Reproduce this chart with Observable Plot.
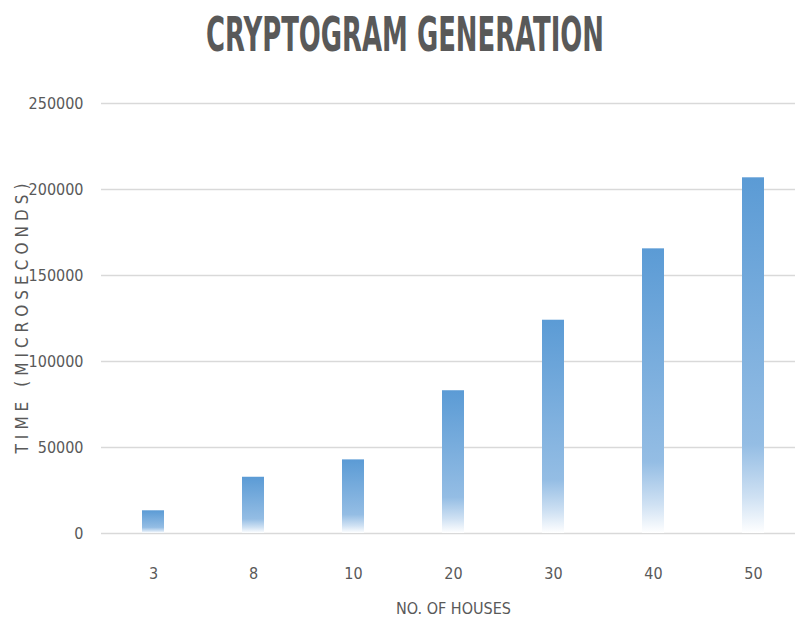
<!DOCTYPE html>
<html>
<head>
<meta charset="utf-8">
<script src="https://cdn.jsdelivr.net/npm/d3@7"></script>
<script src="https://cdn.jsdelivr.net/npm/@observablehq/plot@0.6"></script>
<style>
  html, body { margin: 0; padding: 0; background: #fff; }
  #chart { width: 795px; height: 626px; position: relative; overflow: hidden; }
  #title-box { height: 75px; width: 795px; position: relative; }
  #title {
    position: absolute; left: 405px; top: 6px;
    white-space: nowrap;
    font-family: 'DejaVu Sans Condensed', 'Liberation Sans', sans-serif;
    font-weight: bold; font-size: 48px; line-height: 56px;
    color: #595959;
    transform-origin: 0 0;
  }
</style>
</head>
<body>
<div id="chart">
  <div id="title-box"><span id="title">CRYPTOGRAM GENERATION</span></div>
</div>
<script>
// Number of houses (categories) and cryptogram generation time in microseconds
const houses = ["3", "8", "10", "20", "30", "40", "50"];
const times = [13200, 32700, 42800, 83000, 124000, 165500, 206800];
const yTicks = [0, 50000, 100000, 150000, 200000, 250000];

const data = houses.map((h, i) => ({house: h, time: times[i]}));

const font = "'DejaVu Sans Condensed', 'Liberation Sans', sans-serif";

// Narrow the title so it spans about 398px, centred on x = 405
const title = document.getElementById("title");
const natural = title.getBoundingClientRect().width;
const k = 398 / natural;
title.style.left = (405 - 199) + "px";
title.style.transform = `scaleX(${k})`;

const plot = Plot.plot({
  width: 795,
  height: 551,
  marginTop: 28,
  marginBottom: 93,
  marginLeft: 101,
  marginRight: 0,
  style: {fontFamily: font, fontSize: "16px", color: "#595959", background: "#fff", overflow: "visible"},
  x: {
    domain: houses,
    range: [101, 804],
    paddingInner: 0.78,
    paddingOuter: 0.39,
    label: "NO. OF HOUSES",
    labelAnchor: "center",
    labelOffset: 80,
    tickSize: 0,
    tickPadding: 34
  },
  y: {
    domain: [0, 250000],
    ticks: yTicks,
    tickFormat: d => String(d),
    label: "TIME (MICROSECONDS)",
    labelAnchor: "center",
    labelOffset: 86,
    tickSize: 0,
    tickPadding: 18
  },
  marks: [
    Plot.ruleY(yTicks, {stroke: "#d9d9d9", strokeWidth: 1.6}),
    Plot.barY(data, {x: "house", y: "time", fill: "url(#barFade)"})
  ]
});

// Vertical fade for the bars: solid blue at the top, white at the base
const ns = "http://www.w3.org/2000/svg";
const defs = document.createElementNS(ns, "defs");
const grad = document.createElementNS(ns, "linearGradient");
grad.setAttribute("id", "barFade");
grad.setAttribute("x1", "0"); grad.setAttribute("y1", "0");
grad.setAttribute("x2", "0"); grad.setAttribute("y2", "1");
[["0%", "#5b9bd5"], ["75%", "#94bde4"], ["90%", "#cfe1f3"], ["100%", "#ffffff"]].forEach(([o, c]) => {
  const s = document.createElementNS(ns, "stop");
  s.setAttribute("offset", o);
  s.setAttribute("stop-color", c);
  grad.appendChild(s);
});
defs.appendChild(grad);
plot.insertBefore(defs, plot.firstChild);

document.getElementById("chart").appendChild(plot);

// Axis titles: drop Plot's arrows, spread the vertical label
plot.querySelectorAll("text").forEach(t => {
  const s = t.textContent;
  if (s.includes("NO. OF HOUSES")) {
    t.textContent = "NO. OF HOUSES";
    t.setAttribute("font-size", "16");
    t.setAttribute("dx", "5");
  }
  if (s.includes("TIME (MICROSECONDS)")) {
    t.textContent = "TIME (MICROSECONDS)";
    t.setAttribute("font-size", "17");
    t.setAttribute("textLength", "270");
    t.setAttribute("lengthAdjust", "spacing");
  }
});
</script>
</body>
</html>
